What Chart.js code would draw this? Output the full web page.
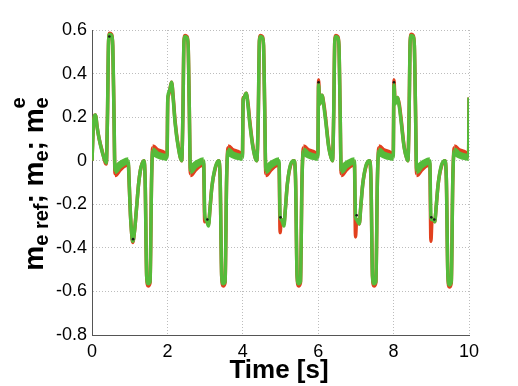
<!DOCTYPE html>
<html>
<head>
<meta charset="utf-8">
<script src="https://cdn.jsdelivr.net/npm/chart.js@4.4.1/dist/chart.umd.min.js"></script>
<style>
html, body { margin: 0; padding: 0; background: #fff; }
</style>
</head>
<body>
<canvas id="myChart" width="518" height="386"></canvas>
<script>
// samples, one 2 s cycle per line
var time = [
  0.00,0.04,0.09,0.14,0.19,0.27,0.38,0.41,0.44,0.47,0.52,0.55,0.58,0.61,0.70,0.82,0.96,0.99,1.02,1.05,1.08,1.13,1.18,1.24,1.30,1.38,1.41,1.45,1.49,1.54,1.58,1.61,1.70,1.85,1.99,
  2.01,2.03,2.07,2.11,2.16,2.20,2.29,2.38,2.41,2.44,2.47,2.52,2.55,2.58,2.61,2.70,2.82,2.96,2.99,3.02,3.05,3.09,3.13,3.18,3.27,3.36,3.40,3.44,3.48,3.53,3.57,3.61,3.70,3.85,3.99,
  4.01,4.03,4.06,4.09,4.14,4.18,4.27,4.37,4.41,4.44,4.47,4.52,4.55,4.58,4.61,4.70,4.82,4.96,4.99,5.02,5.05,5.09,5.13,5.18,5.27,5.36,5.40,5.44,5.48,5.53,5.57,5.61,5.70,5.85,5.99,
  6.01,6.04,6.07,6.10,6.15,6.20,6.28,6.38,6.41,6.44,6.47,6.52,6.55,6.58,6.61,6.70,6.82,6.96,6.99,7.02,7.05,7.09,7.13,7.18,7.27,7.36,7.40,7.44,7.48,7.53,7.57,7.61,7.70,7.85,7.99,
  8.01,8.04,8.07,8.10,8.15,8.20,8.28,8.38,8.41,8.44,8.47,8.52,8.55,8.58,8.61,8.70,8.82,8.96,8.99,9.02,9.05,9.09,9.13,9.18,9.27,9.36,9.40,9.44,9.48,9.53,9.57,9.61,9.70,9.85,9.99,10.0
];
var mE = [
  0.00,0.17,0.21,0.15,0.10,0.04,-0.01,0.20,0.55,0.58,0.575,0.53,0.25,-0.045,-0.025,-0.01,0.00,-0.12,-0.25,-0.33,-0.37,-0.32,-0.22,-0.10,-0.03,0.00,-0.09,-0.53,-0.565,-0.555,-0.09,0.045,0.03,0.02,0.015,
  0.28,0.31,0.33,0.36,0.27,0.18,0.06,0.00,0.20,0.55,0.57,0.565,0.53,0.25,-0.045,-0.025,-0.01,0.00,-0.24,-0.27,-0.28,-0.30,-0.22,-0.12,-0.03,0.00,-0.09,-0.53,-0.565,-0.555,-0.09,0.045,0.03,0.02,0.015,
  0.28,0.29,0.30,0.31,0.25,0.18,0.06,0.00,0.20,0.55,0.57,0.565,0.53,0.25,-0.045,-0.025,-0.01,0.00,-0.26,-0.27,-0.28,-0.30,-0.22,-0.11,-0.015,0.00,-0.09,-0.53,-0.565,-0.555,-0.09,0.045,0.03,0.02,0.015,
  0.35,0.26,0.28,0.30,0.25,0.18,0.06,0.00,0.20,0.55,0.57,0.565,0.53,0.25,-0.045,-0.025,-0.01,0.00,-0.26,-0.27,-0.28,-0.29,-0.21,-0.11,-0.02,0.00,-0.09,-0.53,-0.565,-0.555,-0.09,0.045,0.03,0.02,0.015,
  0.35,0.26,0.28,0.29,0.25,0.18,0.06,0.00,0.20,0.55,0.575,0.57,0.53,0.25,-0.045,-0.025,-0.01,0.00,-0.26,-0.27,-0.27,-0.28,-0.21,-0.11,-0.02,0.00,-0.09,-0.53,-0.57,-0.555,-0.09,0.045,0.03,0.02,0.015,0.29
];
var mRef = [
  0.00,0.17,0.21,0.15,0.10,0.045,-0.015,0.20,0.55,0.585,0.58,0.53,0.25,-0.06,-0.04,-0.02,-0.01,-0.12,-0.25,-0.33,-0.375,-0.32,-0.22,-0.10,-0.03,0.00,-0.09,-0.53,-0.575,-0.56,-0.09,0.06,0.045,0.035,0.025,
  0.28,0.30,0.33,0.36,0.28,0.19,0.065,0.00,0.20,0.55,0.575,0.57,0.53,0.25,-0.06,-0.04,-0.02,-0.01,-0.28,-0.27,-0.28,-0.29,-0.22,-0.12,-0.035,0.00,-0.09,-0.53,-0.575,-0.56,-0.09,0.06,0.045,0.035,0.025,
  0.29,0.29,0.30,0.31,0.26,0.19,0.065,0.00,0.20,0.55,0.575,0.57,0.53,0.25,-0.06,-0.04,-0.02,-0.01,-0.33,-0.27,-0.28,-0.29,-0.22,-0.11,-0.02,0.00,-0.09,-0.53,-0.575,-0.56,-0.09,0.06,0.045,0.035,0.025,
  0.37,0.26,0.28,0.30,0.26,0.19,0.065,0.00,0.20,0.55,0.575,0.57,0.53,0.25,-0.06,-0.04,-0.02,-0.01,-0.35,-0.27,-0.28,-0.29,-0.21,-0.11,-0.025,0.00,-0.09,-0.53,-0.575,-0.56,-0.09,0.06,0.045,0.035,0.025,
  0.37,0.27,0.28,0.29,0.26,0.19,0.065,0.00,0.20,0.55,0.58,0.575,0.53,0.25,-0.06,-0.04,-0.02,-0.01,-0.37,-0.27,-0.27,-0.28,-0.21,-0.11,-0.025,0.00,-0.09,-0.53,-0.58,-0.56,-0.09,0.06,0.045,0.035,0.025,0.29
];
// the few dark estimator dots that show through
var estTime = [0.46, 1.09, 3.06, 5.00, 6.01, 7.02, 8.01, 9.00, 9.08];
var mEst    = [0.57, -0.36, -0.27, -0.26, 0.36, -0.25, 0.36, -0.26, -0.27];

var xTicks = [0, 2, 4, 6, 8, 10];
var yTicks = [-0.8, -0.6, -0.4, -0.2, 0, 0.2, 0.4, 0.6];

function pts(xs, ys) {
  return xs.map(function(x, i){ return {x: x, y: ys[i]}; });
}

// the ripple makes the flat parts look like thick bands
function bandWidth(ctx) {
  var r = ctx.p0.parsed.x % 2;
  if ((r >= 0.60 && r < 0.9) || (r >= 1.60 && r < 1.9)) return 7;
  return 3.5;
}

var yTitle = {
  id: 'yTitle',
  afterDraw: function(chart) {
    var c = chart.ctx;
    var parts = [
      ['m', 28, 0], ['e ref', 20, 5], ['; ', 28, 0],
      ['m', 28, 0], ['e', 20, 5], ['; ', 28, 0],
      ['m', 28, 0], ['e', 20, 5]
    ];
    c.save();
    var total = 0;
    parts.forEach(function(p){
      c.font = 'bold ' + p[1] + 'px "Liberation Sans", Arial, sans-serif';
      p.push(c.measureText(p[0]).width);
      total += p[3];
    });
    c.translate(43, 184);
    c.rotate(-Math.PI / 2);
    c.fillStyle = '#000';
    c.textBaseline = 'alphabetic';
    var x = -total / 2;
    parts.forEach(function(p, i){
      c.font = 'bold ' + p[1] + 'px "Liberation Sans", Arial, sans-serif';
      c.fillText(p[0], x, p[2]);
      if (i == parts.length - 1) c.fillText('e', x, -18);
      x += p[3];
    });
    c.restore();

    c.save();
    c.font = 'bold 26px "Liberation Sans", Arial, sans-serif';
    c.fillStyle = '#000';
    c.textAlign = 'center';
    c.fillText('Time [s]', 279, 378);
    c.restore();
  }
};

var ctx = document.getElementById('myChart').getContext('2d');
var myChart = new Chart(ctx, {
  type: 'line',
  data: {
    datasets: [
      {
        label: 'm_e^e', data: pts(estTime, mEst), showLine: false,
        pointRadius: 1.3, pointBackgroundColor: '#1a1a1a', pointBorderWidth: 0, order: 0
      },
      {
        label: 'm_e', data: pts(time, mE), borderColor: '#55bb3a', borderWidth: 3.5,
        pointRadius: 0, cubicInterpolationMode: 'monotone',
        segment: { borderWidth: bandWidth }, order: 1
      },
      {
        label: 'm_e ref', data: pts(time, mRef), borderColor: '#e2401e', borderWidth: 3.5,
        pointRadius: 0, cubicInterpolationMode: 'monotone',
        segment: { borderWidth: bandWidth }, order: 2
      }
    ]
  },
  options: {
    responsive: false,
    animation: false,
    devicePixelRatio: 1,
    layout: { padding: { left: 0, right: 49, top: 30, bottom: 0 } },
    plugins: { legend: { display: false }, tooltip: { enabled: false } },
    scales: {
      x: {
        type: 'linear', min: 0, max: 10,
        afterBuildTicks: function(s){ s.ticks = xTicks.map(function(v){ return {value: v}; }); },
        afterFit: function(s){ s.height = 51; },
        grid: { color: '#bdbdbd', lineWidth: 1, drawTicks: false },
        border: { color: '#555', width: 1, dash: [1, 2] },
        ticks: { padding: 6, color: '#000', font: { size: 18, family: '"Liberation Sans", Arial, sans-serif' }, maxRotation: 0 }
      },
      y: {
        type: 'linear', min: -0.8, max: 0.6,
        afterBuildTicks: function(s){ s.ticks = yTicks.map(function(v){ return {value: v}; }); },
        afterFit: function(s){ s.width = 92; },
        grid: { color: '#bdbdbd', lineWidth: 1, drawTicks: false },
        border: { color: '#555', width: 1, dash: [1, 2] },
        ticks: {
          padding: 5, color: '#000', font: { size: 18, family: '"Liberation Sans", Arial, sans-serif' },
          callback: function(v){ return String(Math.round(v * 10) / 10); }
        }
      }
    }
  },
  plugins: [yTitle]
});
</script>
</body>
</html>
